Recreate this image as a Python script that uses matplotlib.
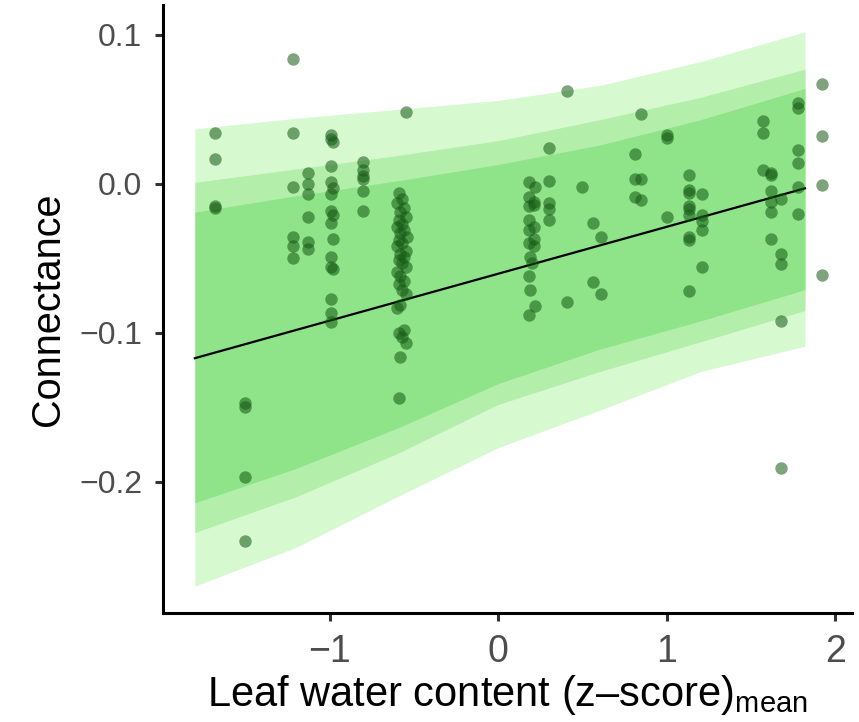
import matplotlib
matplotlib.use("Agg")
import matplotlib.pyplot as plt

# ---- data ----
band_x = [-1.8, -1.2, -0.6, 0.0, 0.6, 1.2, 1.82]
lo95 = [-0.270, -0.244, -0.210, -0.177, -0.152, -0.126, -0.109]
hi95 = [0.037, 0.044, 0.050, 0.056, 0.066, 0.082, 0.102]
lo80 = [-0.234, -0.210, -0.181, -0.148, -0.126, -0.106, -0.085]
hi80 = [0.001, 0.010, 0.019, 0.029, 0.043, 0.058, 0.077]
lo50 = [-0.214, -0.191, -0.164, -0.134, -0.111, -0.092, -0.071]
hi50 = [-0.019, -0.008, 0.002, 0.013, 0.026, 0.043, 0.064]

line_x = [-1.8, 1.82]
line_y = [-0.117, -0.003]

pt_x = ([-1.68] * 4 + [-1.50] * 4 + [-1.22] * 6 + [-1.13] * 6
        + [-0.99, -0.99, -0.98, -0.99, -0.99, -0.98, -0.99, -0.99, -0.98, -0.99,
           -0.98, -0.99, -0.99, -0.98, -0.99, -0.99, -0.99]
        + [-0.80] * 6
        + [-0.55, -0.59, -0.57, -0.60, -0.56, -0.58, -0.55, -0.59, -0.57, -0.60,
           -0.56, -0.58, -0.54, -0.59, -0.57, -0.60, -0.55, -0.58, -0.56, -0.59,
           -0.57, -0.55, -0.60, -0.58, -0.56, -0.59, -0.57, -0.55, -0.58, -0.60,
           -0.56, -0.59, -0.57, -0.55, -0.58, -0.59]
        + [0.18, 0.22, 0.18, 0.21, 0.21, 0.18, 0.18, 0.21, 0.18, 0.21,
           0.18, 0.21, 0.19, 0.20, 0.18, 0.19, 0.22, 0.18]
        + [0.30] * 5
        + [0.41, 0.41, 0.50, 0.56, 0.56, 0.61, 0.61]
        + [0.81, 0.81, 0.81, 0.85, 0.85, 0.85]
        + [1.0, 1.0, 1.0]
        + [1.13] * 9 + [1.21] * 5 + [1.57] * 3 + [1.62] * 6 + [1.68] * 5
        + [1.78] * 6 + [1.92] * 4)

pt_y = ([0.034, 0.017, -0.015, -0.016]
        + [-0.147, -0.150, -0.197, -0.240]
        + [0.084, 0.034, -0.002, -0.036, -0.042, -0.050]
        + [0.007, 0.000, -0.007, -0.022, -0.039, -0.044]
        + [0.033, 0.030, 0.028, 0.012, 0.001, -0.003, -0.007, -0.018, -0.021, -0.026,
           -0.037, -0.049, -0.056, -0.057, -0.077, -0.087, -0.093]
        + [0.015, 0.009, 0.005, 0.003, -0.005, -0.018]
        + [0.048, -0.006, -0.010, -0.013, -0.016, -0.019, -0.022, -0.024, -0.027, -0.029,
           -0.031, -0.033, -0.036, -0.038, -0.040, -0.042, -0.045, -0.047, -0.049, -0.051,
           -0.053, -0.056, -0.059, -0.062, -0.065, -0.067, -0.071, -0.074, -0.081, -0.083,
           -0.098, -0.100, -0.103, -0.107, -0.116, -0.144]
        + [0.001, -0.002, -0.009, -0.012, -0.014, -0.015, -0.024, -0.029, -0.031, -0.037,
           -0.040, -0.042, -0.049, -0.053, -0.062, -0.071, -0.082, -0.088]
        + [0.024, 0.002, -0.013, -0.017, -0.024]
        + [0.062, -0.079, -0.002, -0.026, -0.066, -0.036, -0.074]
        + [0.020, 0.003, -0.009, 0.047, 0.003, -0.011]
        + [0.033, 0.031, -0.022]
        + [0.006, -0.004, -0.006, -0.015, -0.017, -0.021, -0.036, -0.038, -0.072]
        + [-0.007, -0.021, -0.025, -0.031, -0.056]
        + [0.042, 0.034, 0.009]
        + [0.007, 0.006, -0.005, -0.012, -0.019, -0.037]
        + [-0.010, -0.047, -0.054, -0.092, -0.191]
        + [0.054, 0.051, 0.023, 0.014, -0.002, -0.020]
        + [0.067, 0.032, -0.001, -0.061])

x_ticks = [-1, 0, 1, 2]
y_ticks = [-0.2, -0.1, 0.0, 0.1]
y_ticklabels = ["\u22120.2", "\u22120.1", "0.0", "0.1"]
x_ticklabels = ["\u22121", "0", "1", "2"]

# ---- plotting ----
plt.rcParams["font.family"] = ["Liberation Sans", "DejaVu Sans"]
plt.rcParams["mathtext.fontset"] = "custom"
plt.rcParams["mathtext.rm"] = "Liberation Sans"

fig = plt.figure(figsize=(8.59, 7.22), dpi=100)
ax = fig.add_axes([0.19, 0.151, 0.802, 0.842])

ax.fill_between(band_x, lo95, hi95, color="#d6f9d0", linewidth=0, zorder=1)
ax.fill_between(band_x, lo80, hi80, color="#b3eeaa", linewidth=0, zorder=2)
ax.fill_between(band_x, lo50, hi50, color="#8fe388", linewidth=0, zorder=3)
ax.plot(line_x, line_y, color="black", linewidth=1.6, zorder=4)
ax.scatter(pt_x, pt_y, s=80, color="#145a14", alpha=0.55, linewidths=0, zorder=5)

ax.set_xlim(-1.988, 2.10)
ax.set_ylim(-0.288, 0.120)
ax.set_xticks(x_ticks)
ax.set_xticklabels(x_ticklabels, fontsize=27)
ax.set_yticks(y_ticks)
ax.set_yticklabels(y_ticklabels, fontsize=23)

for s in ["top", "right"]:
    ax.spines[s].set_visible(False)
for s in ["left", "bottom"]:
    ax.spines[s].set_linewidth(2.2)
    ax.spines[s].set_color("black")
ax.tick_params(axis="both", length=6, width=2.2, color="#333333",
               labelcolor="#4d4d4d")
ax.tick_params(axis="y", pad=9)
ax.tick_params(axis="x", pad=9)

ax.set_xlabel(r"Leaf water content (z–score)$_{\mathrm{mean}}$", fontsize=30, labelpad=2)
ax.set_ylabel("Connectance", fontsize=28.5, labelpad=9)

fig.savefig("out.png", dpi=100)
